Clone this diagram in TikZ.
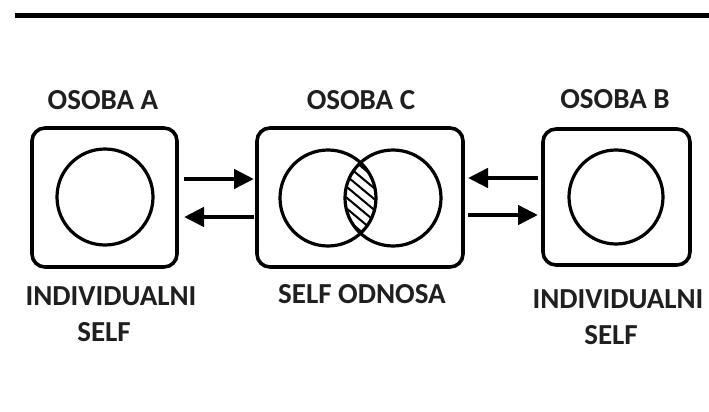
\documentclass[tikz,border=0pt]{standalone}
\usepackage{fontspec}
\setmainfont{Carlito}
\usetikzlibrary{arrows.meta}
\begin{document}
\begin{tikzpicture}[x=1pt,y=-1pt,
  boxst/.style={draw,line width=3.6pt,rounded corners=13pt},
  circst/.style={draw,line width=3.2pt,circle},
  arr/.style={line width=4.5pt,-{Triangle[length=20pt,width=19pt]}},
  lab/.style={font=\bfseries\fontsize{29}{35}\selectfont,text=black!88,align=center,inner sep=0pt}]
\useasboundingbox (0,0) rectangle (709,412);
\fill[white] (0,0) rectangle (709,412);
\coordinate (tl) at (15,16);
\coordinate (tr) at (709,16);
\draw[line width=5pt] (tl) -- (tr);
% boxes
\draw[boxst] (32,128) rectangle (177,267);
\draw[boxst] (257,128) rectangle (463,267);
\draw[boxst] (543,129) rectangle (690,265);
% circles
\draw[circst] (105,197) circle (48);
\draw[circst] (616,197) circle (47);
\begin{scope}
  \clip (328,198) circle (48);
  \clip (393,198) circle (48);
  \foreach \k in {-78,-65,...,80}
    \draw[line width=2pt] (360+\k-60,198-50) -- (360+\k+60,198+50);
\end{scope}
\draw[circst] (328,198) circle (48);
\draw[circst] (393,198) circle (48);
% arrow anchors
\coordinate (a1) at (184,179); \coordinate (c1) at (254,179);
\coordinate (c2) at (254,217); \coordinate (a2) at (184,217);
\coordinate (b1) at (538,178); \coordinate (c3) at (468,178);
\coordinate (c4) at (468,215); \coordinate (b2) at (538,215);
\draw[arr] (a1) -- (c1);
\draw[arr] (c2) -- (a2);
\draw[arr] (b1) -- (c3);
\draw[arr] (c4) -- (b2);
% labels
\node[lab] (la) at (103,100) {OSOBA A};
\node[lab] (lc) at (361,100) {OSOBA C};
\node[lab] (lb) at (615,99) {OSOBA B};
\node[lab] (ia) at (111,296) {INDIVIDUALNI};
\node[lab] (sa) at (104,332) {SELF};
\node[lab] (so) at (362,294) {SELF ODNOSA};
\node[lab] (ib) at (618,299) {INDIVIDUALNI};
\node[lab] (sb) at (611,335) {SELF};
\end{tikzpicture}
\end{document}
